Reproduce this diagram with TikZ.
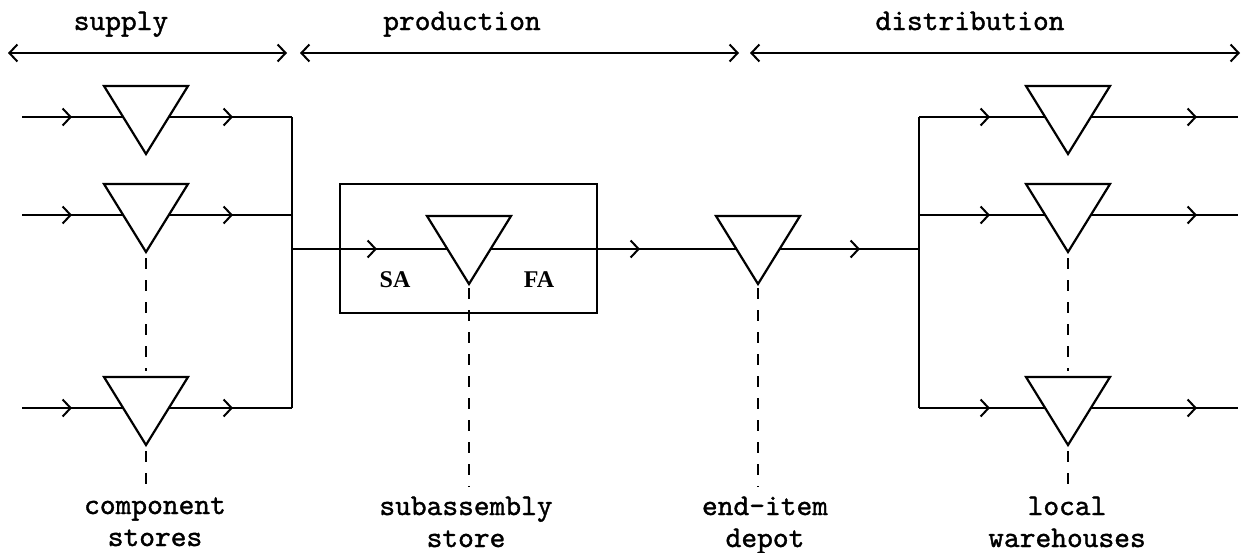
\documentclass[tikz,border=0pt]{standalone}
\usepackage{fontspec}
\newfontfamily\labfont[FakeBold=1.2]{lmmono10-regular.otf}
\newfontfamily\safont{Liberation Serif}
\usetikzlibrary{arrows.meta,decorations.markings}
\begin{document}
\begin{tikzpicture}[x=1pt,y=-1pt,
  line width=2pt,
  store/.style={minimum width=84pt, minimum height=68pt, inner sep=0pt, outer sep=0pt, anchor=north},
  tri/.style={draw, fill=white, line width=2.2pt, line join=miter},
  barb/.tip={Straight Barb[length=8pt,width=17pt]},
  flow/.style={line width=2pt, postaction={decorate},
    decoration={markings, mark=at position #1 with {\arrow{barb}}}},
  span/.style={line width=2pt, {barb}-{barb}},
  leader/.style={line width=1.6pt, dash pattern=on 11pt off 11pt},
  lab/.style={font=\labfont\fontsize{30}{32}\selectfont, inner sep=0pt, align=center},
  ab/.style={font=\safont\bfseries\fontsize{24}{26}\selectfont, inner sep=0pt, anchor=base},
]
\useasboundingbox (0,0) rectangle (1245,552);

% stores
\node[store] (c1) at (146,86) {};
\node[store] (c2) at (146,184) {};
\node[store] (c3) at (146,377) {};
\node[store] (sa) at (469,216) {};
\node[store] (ei) at (758,216) {};
\node[store] (w1) at (1068,86) {};
\node[store] (w2) at (1068,184) {};
\node[store] (w3) at (1068,377) {};

% production box
\node[draw, line width=2pt, minimum width=257pt, minimum height=129pt, inner sep=0pt] (box) at (468.5,248.5) {};
\node[ab] (sal) at (395,287) {SA};
\node[ab] (fal) at (539,287) {FA};

% labels
\node[lab, anchor=base] (ts) at (121,30) {supply};
\node[lab, anchor=base] (tp) at (462,30) {production};
\node[lab, anchor=base] (td) at (970,30) {distribution};
\node[lab, anchor=base] (lc) at (155,546) {component\\stores};
\node[lab, anchor=base] (ls) at (466,547) {subassembly\\store};
\node[lab, anchor=base] (le) at (765,547) {end-item\\depot};
\node[lab, anchor=base] (lw) at (1067,547) {local\\warehouses};

% coordinates
\coordinate (i1) at (22,117);
\coordinate (i2) at (22,215);
\coordinate (i3) at (22,408);
\coordinate (b1) at (292,117);
\coordinate (b2) at (292,215);
\coordinate (b3) at (292,408);
\coordinate (bm) at (292,249);
\coordinate (r1) at (919,117);
\coordinate (r2) at (919,215);
\coordinate (r3) at (919,408);
\coordinate (rm) at (919,249);
\coordinate (o1) at (1238,117);
\coordinate (o2) at (1238,215);
\coordinate (o3) at (1238,408);
\coordinate (s0) at (8,53);
\coordinate (s1) at (287,53);
\coordinate (p0) at (300,53);
\coordinate (p1) at (739,53);
\coordinate (d0) at (750,53);
\coordinate (d1) at (1240,53);

% phase arrows
\draw[span] (s0) -- (s1);
\draw[span] (p0) -- (p1);
\draw[span] (d0) -- (d1);

% supply side
\draw[flow=50pt] (i1) -- (c1.center |- i1);
\draw[flow=87pt] (c1.center |- i1) -- (b1);
\draw[flow=50pt] (i2) -- (c2.center |- i2);
\draw[flow=87pt] (c2.center |- i2) -- (b2);
\draw[flow=50pt] (i3) -- (c3.center |- i3);
\draw[flow=87pt] (c3.center |- i3) -- (b3);
\draw (b1) -- (b3);

% main line
\draw[flow=85pt] (bm) -- (sa.center |- bm);
\draw[flow=171pt] (sa.center |- bm) -- (ei.center |- bm);
\draw[flow=102pt] (ei.center |- bm) -- (rm);

% distribution side
\draw (r1) -- (r3);
\draw[flow=71pt] (r1) -- (w1.center |- r1);
\draw[flow=129pt] (w1.center |- r1) -- (o1);
\draw[flow=71pt] (r2) -- (w2.center |- r2);
\draw[flow=129pt] (w2.center |- r2) -- (o2);
\draw[flow=71pt] (r3) -- (w3.center |- r3);
\draw[flow=129pt] (w3.center |- r3) -- (o3);

% triangles
\foreach \n in {c1,c2,c3,sa,ei,w1,w2,w3}
  \draw[tri] (\n.north west) -- (\n.north east) -- (\n.south) -- cycle;

% dashed leaders
\draw[leader, shorten <=6pt, shorten >=6pt] (c2.south) -- (c3.north);
\draw[leader, shorten <=6pt, shorten >=9pt] (c3.south) -- (c3.south |- lc.north);
\draw[leader, shorten <=4pt, shorten >=9pt] (sa.south) -- (sa.south |- ls.north);
\draw[leader, shorten <=4pt, shorten >=9pt] (ei.south) -- (ei.south |- le.north);
\draw[leader, shorten <=6pt, shorten >=6pt] (w2.south) -- (w3.north);
\draw[leader, shorten <=6pt, shorten >=9pt] (w3.south) -- (w3.south |- lw.north);
\end{tikzpicture}
\end{document}
